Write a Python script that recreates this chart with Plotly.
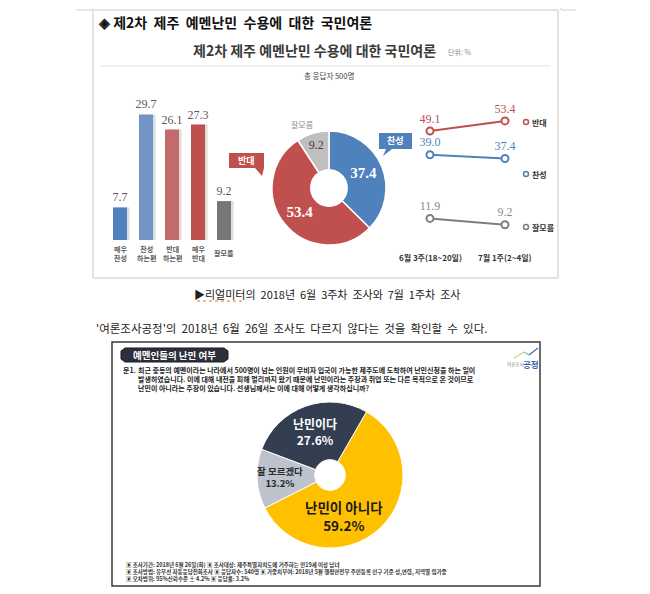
import plotly.graph_objects as go

# 리얼미터 - 응답 세부 분포 (막대)
bar_labels = ["매우<br>찬성", "찬성<br>하는편", "반대<br>하는편", "매우<br>반대", "잘모름"]
bar_values = [7.7, 29.7, 26.1, 27.3, 9.2]

# 리얼미터 - 찬반 (도넛)
donut_labels = ["찬성", "반대", "잘모름"]
donut_values = [37.4, 53.4, 9.2]

# 리얼미터 - 추이 (선)
week_labels = ["6월 3주(18~20일)", "7월 1주(2~4일)"]
oppose_trend = [49.1, 53.4]
support_trend = [39.0, 37.4]
unsure_trend = [11.9, 9.2]

# 여론조사공정 - 난민 여부 (파이)
refugee_labels = ["난민이 아니다", "잘 모르겠다", "난민이다"]
refugee_values = [59.2, 13.2, 27.6]

# page body has an 8px margin, so the figure is a bit smaller than the window
OFF = 8
W, H = 650 - OFF, 594 - OFF
KR = "Noto Sans CJK KR"
SERIF = "Liberation Serif"


def px_x(x):
    return (x - OFF) / W


def px_y(y):
    return 1 - (y - OFF) / H


def note(x, y, text, size, color="#333333", anchor="center", family=KR, xref="paper"):
    return dict(xref=xref, yref="paper", x=px_x(x) if xref == "paper" else x, y=px_y(y),
                text=text, showarrow=False, xanchor=anchor, yanchor="middle",
                font=dict(family=family, size=size, color=color))


def path(points):
    s = "M " + " L ".join(f"{px_x(a):.5f},{px_y(b):.5f}" for a, b in points)
    return s + " Z"


fig = go.Figure()

# bar shadows + bars
bar_colors = ["#4f81bd", "#7295c4", "#c26b6a", "#c0504d", "#767676"]
fig.add_trace(go.Bar(x=list(range(len(bar_values))), y=bar_values, width=0.54, offset=-0.17,
                     marker=dict(color="#dedede", line=dict(width=0)),
                     hoverinfo="skip", xaxis="x", yaxis="y"))
fig.add_trace(go.Bar(x=list(range(len(bar_values))), y=bar_values, width=0.54, offset=-0.27,
                     marker=dict(color=bar_colors, line=dict(width=0)),
                     text=[f"{v:.1f}" for v in bar_values], textposition="outside",
                     constraintext="none",
                     textfont=dict(family=SERIF, size=12, color="#595959"),
                     cliponaxis=False, xaxis="x", yaxis="y"))

# donut
donut_text = [f"<b>{donut_values[0]}</b>", f"<b>{donut_values[1]}</b>", f"{donut_values[2]}"]
fig.add_trace(go.Pie(labels=donut_labels, values=donut_values, hole=0.32, sort=False,
                     direction="clockwise", rotation=0,
                     domain=dict(x=[px_x(272), px_x(386)], y=[px_y(245), px_y(131)]),
                     marker=dict(colors=["#4f81bd", "#c0504d", "#bfbfbf"],
                                 line=dict(color="white", width=1.5)),
                     text=donut_text, textinfo="text", textposition="inside",
                     insidetextorientation="horizontal",
                     textfont=dict(family=SERIF, size=[15, 15, 12],
                                   color=["white", "white", "#404040"])))

# trend lines
trend = [(oppose_trend, "#c0504d", "#c0504d"),
         (support_trend, "#4f81bd", "#4f81bd"),
         (unsure_trend, "#7f7f7f", "#8c8c8c")]
for vals, col, tcol in trend:
    fig.add_trace(go.Scatter(x=[0, 1], y=vals, mode="lines+markers+text",
                             line=dict(color=col, width=2),
                             marker=dict(symbol="circle", size=7, color="white",
                                         line=dict(color=col, width=2)),
                             text=[f"{v:.1f}" for v in vals], textposition="top center",
                             textfont=dict(family=SERIF, size=12, color=tcol),
                             cliponaxis=False, xaxis="x2", yaxis="y2"))

# refugee pie
fig.add_trace(go.Pie(labels=refugee_labels, values=refugee_values, hole=0.21, sort=False,
                     direction="clockwise", rotation=30, textinfo="none",
                     domain=dict(x=[px_x(257), px_x(403)], y=[px_y(548), px_y(402)]),
                     marker=dict(colors=["#ffc000", "#bcc3cd", "#333e50"],
                                 line=dict(color="white", width=1))))

shapes = [
    # top panel frame and table corners
    dict(type="rect", xref="paper", yref="paper", x0=px_x(93), x1=px_x(558),
         y0=px_y(278), y1=px_y(10), line=dict(color="#c8c8c8", width=1)),
    dict(type="line", xref="paper", yref="paper", x0=px_x(92), x1=px_x(92),
         y0=px_y(8), y1=px_y(10), line=dict(color="#d0d0d0", width=1)),
    dict(type="line", xref="paper", yref="paper", x0=px_x(76), x1=px_x(92),
         y0=px_y(10), y1=px_y(10), line=dict(color="#d0d0d0", width=1)),
    dict(type="line", xref="paper", yref="paper", x0=px_x(561), x1=px_x(561),
         y0=px_y(8), y1=px_y(10), line=dict(color="#d0d0d0", width=1)),
    dict(type="line", xref="paper", yref="paper", x0=px_x(561), x1=px_x(576),
         y0=px_y(10), y1=px_y(10), line=dict(color="#d0d0d0", width=1)),
    dict(type="line", xref="paper", yref="paper", x0=px_x(100), x1=px_x(550),
         y0=px_y(66), y1=px_y(66), line=dict(color="#f0f0f0", width=2)),
    # callouts
    dict(type="path", xref="paper", yref="paper",
         path=path([(379, 133), (412, 133), (412, 149), (392, 149), (383, 156), (386, 149), (379, 149)]),
         fillcolor="#4f81bd", line=dict(width=0)),
    dict(type="path", xref="paper", yref="paper",
         path=path([(229, 153), (264, 153), (264, 168), (262, 176), (255, 168), (229, 168)]),
         fillcolor="#c0504d", line=dict(width=0)),
    # spell-check underline
    dict(type="line", xref="paper", yref="paper", x0=px_x(197), x1=px_x(245),
         y0=px_y(301), y1=px_y(301), line=dict(color="#e8742a", width=1, dash="dot")),
    # bottom panel frame
    dict(type="rect", xref="paper", yref="paper", x0=px_x(112), x1=px_x(540),
         y0=px_y(586), y1=px_y(342), line=dict(color="#3a3a3a", width=1.5)),
    dict(type="path", xref="paper", yref="paper",
         path=path([(125, 348), (224, 348), (228, 351), (228, 359), (224, 362), (125, 362), (121, 359), (121, 351)]),
         fillcolor="#2b303b", line=dict(color="#1c1f26", width=1)),
    # logo strokes
    dict(type="line", xref="paper", yref="paper", x0=px_x(514), x1=px_x(524),
         y0=px_y(358), y1=px_y(352), line=dict(color="#c9da6b", width=1.2)),
    dict(type="line", xref="paper", yref="paper", x0=px_x(524), x1=px_x(529),
         y0=px_y(352), y1=px_y(355), line=dict(color="#8fb6c8", width=1.2)),
    dict(type="line", xref="paper", yref="paper", x0=px_x(529), x1=px_x(538),
         y0=px_y(355), y1=px_y(348), line=dict(color="#3b6fb0", width=1.2)),
]

# legend markers for trend lines
legend_rows = [("반대", "#c0504d", 122), ("찬성", "#4f81bd", 174), ("잘모름", "#7f7f7f", 227)]
for name, col, yy in legend_rows:
    shapes.append(dict(type="circle", xref="paper", yref="paper",
                       x0=px_x(523.5), x1=px_x(528.5), y0=px_y(yy + 2.5), y1=px_y(yy - 2.5),
                       fillcolor="white", line=dict(color=col, width=1.5)))

annotations = [
    note(96, 22, "<b>◈ 제2차  제주  예멘난민  수용에  대한  국민여론</b>", 14, "#111111", anchor="left"),
    note(314, 50, "<b>제2차 제주 예멘난민 수용에 대한 국민여론</b>", 14, "#3a3a3a"),
    note(446, 52, "단위: %", 7, "#8a8a8a", anchor="left"),
    note(329, 75, "총 응답자 500명", 7.5, "#444444"),
    note(302, 125, donut_labels[2], 8, "#8a8a8a"),
    note(395.5, 141, f"<b>{donut_labels[0]}</b>", 9, "white"),
    note(246.5, 160.5, f"<b>{donut_labels[1]}</b>", 9, "white"),
    note(327, 294, "▶리얼미터의  2018년  6월  3주차  조사와  7월  1주차  조사", 11, "#222222"),
    note(94, 328, "'여론조사공정'의  2018년  6월  26일  조사도  다르지  않다는  것을  확인할  수  있다.",
         11.5, "#222222", anchor="left"),
    note(174.5, 355, "<b>예멘인들의 난민 여부</b>", 9.5, "white"),
    note(526, 364.5, "여론조사", 4.5, "#888888", anchor="right"),
    note(541, 363.5, "<b>공정</b>", 8.5, "#2f62aa", anchor="right"),
    note(121, 370, "<b>문1.</b>", 7, "#222222", anchor="left"),
    note(136, 370, "<b>최근 중동의 예멘이라는 나라에서 500명이 넘는 인원이 무비자 입국이 가능한 제주도에 도착하여 난민신청을 하는 일이</b>",
         7, "#222222", anchor="left"),
    note(136, 379, "<b>발생하였습니다. 이에 대해 내전을 피해 멀리까지 왔기 때문에 난민이라는 주장과 취업 또는 다른 목적으로 온 것이므로</b>",
         7, "#222222", anchor="left"),
    note(136, 388, "<b>난민이 아니라는 주장이 있습니다. 선생님께서는 이에 대해 어떻게 생각하십니까?</b>",
         7, "#222222", anchor="left"),
    note(315, 431, f"<b>{refugee_labels[2]}</b><br><b>{refugee_values[2]}%</b>", 12, "white"),
    note(280, 477, f"<b>{refugee_labels[1]}</b><br><b>{refugee_values[1]}%</b>", 9.5, "#2a2a2a"),
    note(344, 516, f"<b>{refugee_labels[0]}</b><br><b>{refugee_values[0]}%</b>", 13.5, "#1a1a1a"),
    note(124, 565, "<b>▣ 조사기간: 2018년 6월 26일(화) ▣ 조사대상: 제주특별자치도에 거주하는 만19세 이상 남녀</b>",
         5.5, "#333333", anchor="left"),
    note(124, 572, "<b>▣ 조사방법: 유무선 자동응답전화조사 ▣ 응답자수: 540명 ▣ 가중치부여: 2018년 5월 행정안전부 주민등록 인구 기준 성,연령, 지역별 림가중</b>",
         5.5, "#333333", anchor="left"),
    note(124, 579, "<b>▣ 오차범위: 95%신뢰수준 ± 4.2% ▣ 응답률: 3.2%</b>",
         5.5, "#333333", anchor="left"),
]
for name, col, yy in legend_rows:
    annotations.append(note(530, yy, f"<b>{name}</b>", 8, "#333333", anchor="left"))
# category labels under the bars
for i, lab in enumerate(bar_labels):
    annotations.append(note(i, 253, f"<b>{lab}</b>", 7, "#5a5a5a", xref="x"))
# week labels under the trend lines
for i, lab in enumerate(week_labels):
    annotations.append(note(i, 257, f"<b>{lab}</b>", 8, "#333333", xref="x2"))

fig.update_layout(
    width=W, height=H, margin=dict(l=0, r=0, t=0, b=0),
    paper_bgcolor="white", plot_bgcolor="white", showlegend=False,
    barmode="overlay",
    xaxis=dict(domain=[px_x(107), px_x(237)], range=[-0.5, 4.5], visible=False),
    yaxis=dict(domain=[px_y(240), px_y(100)], range=[0, 33.1], visible=False),
    xaxis2=dict(domain=[px_x(400), px_x(550)], range=[-0.4, 1.6], anchor="y2", visible=False),
    yaxis2=dict(domain=[px_y(250), px_y(108)], range=[-1.53, 58.9], anchor="x2", visible=False),
    shapes=shapes,
    annotations=annotations,
)

fig.write_html("out.html")
